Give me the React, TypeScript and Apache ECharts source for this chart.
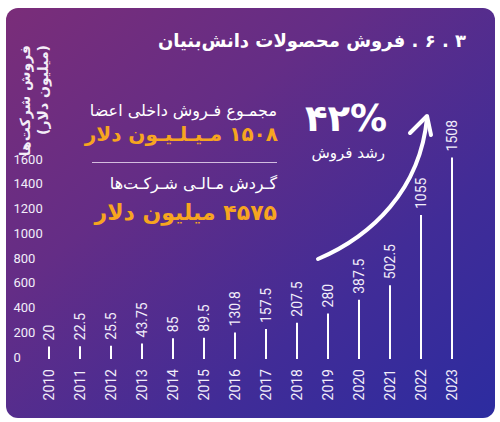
import React, { useEffect, useRef } from "react";
import * as echarts from "echarts";

const years = ["2010", "2011", "2012", "2013", "2014", "2015", "2016", "2017", "2018", "2019", "2020", "2021", "2022", "2023"];
const sales = [20, 22.5, 25.5, 43.75, 85, 89.5, 130.8, 157.5, 207.5, 280, 387.5, 502.5, 1055, 1508];
const yMin = 0;
const yMax = 1600;
const yStep = 200;

const titleText = "\u202B۳ . ۶ . فروش محصولات دانش‌بنیان\u202C";
const yAxisTitle = "فروش شرکت‌ها\n(میلیون دلار)";
const stat1Label = "مجمـوع فـروش داخلی اعضا";
const stat1Value = "\u202B۱۵۰۸ مـیـلـیـون دلار\u202C";
const stat2Label = "گـردش مـالـی شـرکـت‌ها";
const stat2Value = "\u202B۴۵۷۵ میلیون دلار\u202C";
const growthValue = "۴۲%";
const growthLabel = "رشد فروش";

const FA = '"DejaVu Sans", "Noto Sans", sans-serif';
const NUM = 'Roboto, sans-serif';

function txt(x: number, y: number, text: string, font: string, fill: string, align: string, extra: any = {}) {
  return {
    type: "text",
    x,
    y,
    z: 100,
    ...extra,
    style: {
      text,
      font,
      fill,
      align,
      textAlign: align,
      verticalAlign: "middle",
      textVerticalAlign: "middle",
      ...(extra.style || {}),
    },
  };
}

export default function App() {
  const ref = useRef<HTMLDivElement>(null);
  useEffect(() => {
    if (!ref.current) return;
    const chart = echarts.init(ref.current, null, { renderer: "svg" });
    const option: any = {
      animation: false,
      backgroundColor: "#ffffff",
      grid: { left: 33.5, right: 32.5, top: 159, bottom: 65, outerBoundsMode: "none" },
      xAxis: {
        type: "category",
        data: years,
        axisLine: { show: false },
        axisTick: { show: false },
        splitLine: { show: false },
        axisLabel: {
          rotate: 90,
          margin: 12,
          color: "#f2eefa",
          fontFamily: NUM,
          fontSize: 14,
        },
      },
      yAxis: [
        {
          type: "value",
          min: yMin,
          max: yMax,
          interval: yStep,
          axisLine: { show: false },
          axisTick: { show: false },
          splitLine: { show: false },
          axisLabel: {
            align: "left",
            margin: 20,
            color: "#f2eefa",
            fontFamily: NUM,
            fontSize: 13,
            formatter: (v: number) => String(v),
          },
        },
        {
          type: "value",
          min: -63,
          max: 1496,
          show: false,
          splitLine: { show: false },
        },
      ],
      graphic: {
        elements: [
          {
            type: "rect",
            z: -100,
            shape: { x: 6, y: 8, width: 489, height: 410, r: 12 },
            style: {
              fill: new echarts.graphic.LinearGradient(0, 0, 1, 1, [
                { offset: 0, color: "#7a2d79" },
                { offset: 0.35, color: "#642d86" },
                { offset: 0.7, color: "#412c97" },
                { offset: 1, color: "#2c2ca0" },
              ]),
            },
          },
          txt(466, 40, titleText, `bold 18px ${FA}`, "#ffffff", "right"),
          txt(34, 45, yAxisTitle, `bold 14px ${FA}`, "#f4eef8", "right", {
            rotation: Math.PI / 2,
            style: { lineHeight: 18 },
          }),
          txt(277, 110, stat1Label, `16px ${FA}`, "#ffffff", "right"),
          txt(278, 134, stat1Value, `bold 20px ${FA}`, "#f7a520", "right"),
          {
            type: "line",
            z: 100,
            shape: { x1: 92, y1: 162.5, x2: 277, y2: 162.5 },
            style: { stroke: "rgba(240,225,245,0.8)", lineWidth: 1 },
          },
          txt(277, 183, stat2Label, `16px ${FA}`, "#ffffff", "right"),
          txt(277, 212, stat2Value, `bold 22px ${FA}`, "#f7a520", "right"),
          txt(346, 118, growthValue, `bold 37px ${FA}`, "#ffffff", "center"),
          txt(385, 153, growthLabel, `15px ${FA}`, "#ffffff", "right"),
          {
            type: "bezierCurve",
            z: 100,
            shape: { x1: 318, y1: 259, cpx1: 372, cpy1: 236, cpx2: 420, cpy2: 190, x2: 427, y2: 118 },
            style: { stroke: "#ffffff", lineWidth: 4, fill: null, lineCap: "round" },
          },
          {
            type: "polyline",
            z: 100,
            shape: { points: [[410, 133], [427, 116], [431, 135]] },
            style: { stroke: "#ffffff", lineWidth: 4, fill: null, lineCap: "round", lineJoin: "round" },
          },
        ],
      },
      series: [
        {
          type: "custom",
          xAxisIndex: 0,
          yAxisIndex: 1,
          data: sales.map((v, i) => [i, v]),
          renderItem: (params: any, api: any) => {
            const idx = api.value(0);
            const v = api.value(1);
            const top = api.coord([idx, v]);
            const cs = params.coordSys;
            const bottom = cs.y + cs.height + 2;
            return {
              type: "group",
              children: [
                {
                  type: "line",
                  shape: { x1: top[0], y1: bottom, x2: top[0], y2: top[1] },
                  style: { stroke: "#ffffff", lineWidth: 2 },
                },
                {
                  type: "text",
                  x: top[0],
                  y: top[1] - 6,
                  rotation: Math.PI / 2,
                  style: {
                    text: String(v),
                    fill: "#f2eefa",
                    font: `14px ${NUM}`,
                    align: "left",
                    verticalAlign: "middle",
                  },
                },
              ],
            };
          },
        },
      ],
    };
    chart.setOption(option);
    return () => chart.dispose();
  }, []);
  return <div ref={ref} style={{ position: "absolute", left: 0, top: 0, width: 500, height: 422 }} />;
}
